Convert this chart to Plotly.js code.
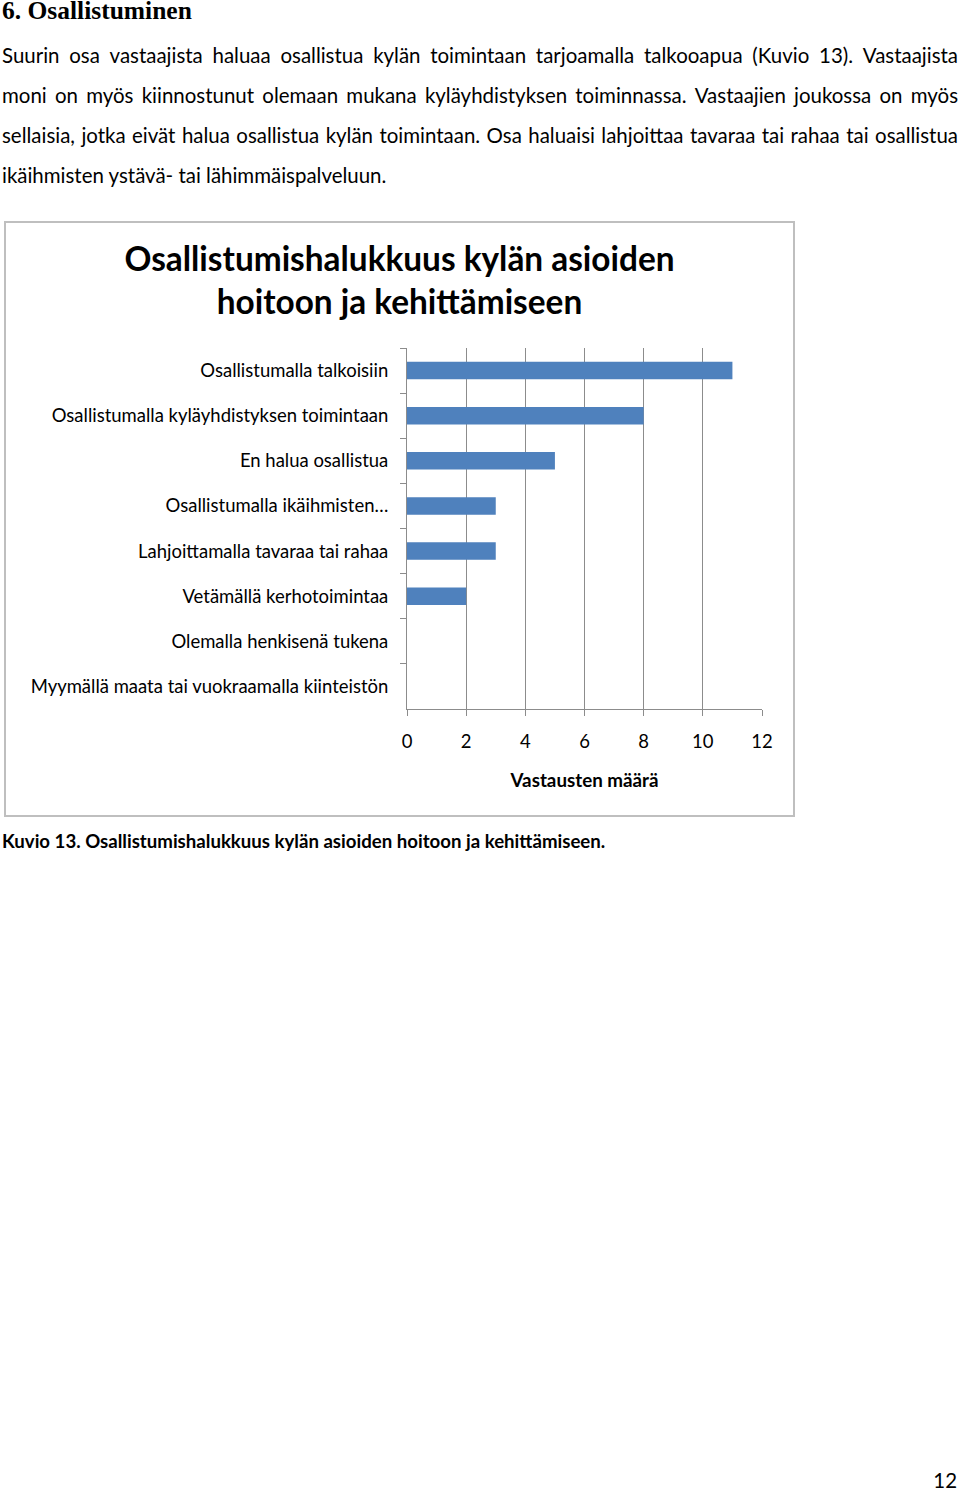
<!DOCTYPE html>
<html><head><meta charset="utf-8">
<script src="https://cdn.plot.ly/plotly-3.0.1.min.js"></script>
<style>
html,body{margin:0;padding:0;background:#fff;}
body{width:960px;height:1493px;position:relative;overflow:hidden;}
#page{position:absolute;left:0;top:0;}
#chart{position:absolute;left:5px;top:222px;width:789px;height:594px;}
#frame{position:absolute;left:4px;top:221px;width:791px;height:596px;border:2px solid #bfbfbf;box-sizing:border-box;pointer-events:none;}
</style></head><body>
<svg id="page" width="960" height="1493" xmlns="http://www.w3.org/2000/svg"></svg>
<div id="chart"></div>
<div id="frame"></div>
<script>
// ---- text content ----
const heading = "6. Osallistuminen";
const paragraphLines = [
  "Suurin osa vastaajista haluaa osallistua kylän toimintaan tarjoamalla talkooapua (Kuvio 13). Vastaajista",
  "moni on myös kiinnostunut olemaan mukana kyläyhdistyksen toiminnassa. Vastaajien joukossa on myös",
  "sellaisia, jotka eivät halua osallistua kylän toimintaan. Osa haluaisi lahjoittaa tavaraa tai rahaa tai osallistua",
  "ikäihmisten ystävä- tai lähimmäispalveluun."
];
const caption = "Kuvio 13. Osallistumishalukkuus kylän asioiden hoitoon ja kehittämiseen.";
const pageNumber = "12";

// ---- chart data ----
const chartTitle = ["Osallistumishalukkuus kylän asioiden", "hoitoon ja kehittämiseen"];
const categories = [
  "Osallistumalla talkoisiin",
  "Osallistumalla kyläyhdistyksen toimintaan",
  "En halua osallistua",
  "Osallistumalla ikäihmisten…",
  "Lahjoittamalla tavaraa tai rahaa",
  "Vetämällä kerhotoimintaa",
  "Olemalla henkisenä tukena",
  "Myymällä maata tai vuokraamalla kiinteistön"
];
const counts = [11, 8, 5, 3, 3, 2, 0, 0];
const xTickValues = [0, 2, 4, 6, 8, 10, 12];
const xAxisTitle = "Vastausten määrä";

// ---- helpers ----
const ctx = document.createElement('canvas').getContext('2d');
function tw(text, font) { ctx.font = font; return ctx.measureText(text).width; }
function fitSize(text, weight, family, target) { return 100 * target / tw(text, weight + ' 100px ' + family); }
const NS = "http://www.w3.org/2000/svg";
const svg = document.getElementById('page');
function addText(str, x, y, size, weight, family, anchor) {
  const t = document.createElementNS(NS, 'text');
  t.setAttribute('x', x); t.setAttribute('y', y);
  t.setAttribute('font-size', size); t.setAttribute('font-weight', weight);
  t.setAttribute('font-family', family); t.setAttribute('fill', '#000');
  if (anchor) t.setAttribute('text-anchor', anchor);
  t.textContent = str; svg.appendChild(t); return t;
}
function addJustified(str, x, y, width, size, family) {
  const font = '400 ' + size + 'px ' + family;
  const words = str.split(' ');
  const total = words.reduce((a, wd) => a + tw(wd, font), 0);
  const gap = (width - total) / (words.length - 1);
  const t = document.createElementNS(NS, 'text');
  t.setAttribute('y', y); t.setAttribute('font-size', size);
  t.setAttribute('font-family', family); t.setAttribute('fill', '#000');
  let cx = x;
  words.forEach((wd, i) => {
    const s = document.createElementNS(NS, 'tspan');
    s.setAttribute('x', cx.toFixed(2));
    s.textContent = (i < words.length - 1) ? wd + ' ' : wd;
    t.appendChild(s);
    cx += tw(wd, font) + gap;
  });
  svg.appendChild(t);
}

function draw() {
  const F = 'Lato';
  const HF = 'Liberation Serif';
  // page text
  const hSize = fitSize(heading, '700', '"' + HF + '"', 190);
  addText(heading, 2, 19, hSize, 700, HF);
  const bodySize = fitSize(paragraphLines[3], '400', F, 385);
  paragraphLines.forEach((ln, i) => {
    if (i < 3) addJustified(ln, 2, 63 + 40 * i, 956, bodySize, F);
    else addText(ln, 2, 63 + 40 * i, bodySize, 400, F);
  });
  const capSize = fitSize(caption, '700', F, 604);
  addText(caption, 2, 848, capSize, 700, F);
  addText(pageNumber, 957, 1488, bodySize, 400, F, 'end');

  // chart sizes
  const labelSize = fitSize(categories[0], '400', F, 188);
  const titleSize = fitSize(chartTitle[0], '700', F, 550);
  const axTitleSize = fitSize(xAxisTitle, '700', F, 148);
  const grey = '#8c8c8c';

  const trace = {
    type: 'bar', orientation: 'h', y: categories, x: counts,
    marker: { color: '#4f81bd', line: { width: 0 } },
    hoverinfo: 'none'
  };
  const layout = {
    width: 789, height: 594,
    margin: { l: 402, r: 32, t: 126, b: 107, pad: 0 },
    paper_bgcolor: '#fff', plot_bgcolor: '#fff', showlegend: false,
    font: { family: F, color: '#000', size: labelSize },
    title: {
      text: chartTitle.join('<br>'),
      font: { family: F, size: titleSize, weight: 700, color: '#000' },
      x: 0.5, xref: 'container', xanchor: 'center',
      y: 1 - 49 / 594, yref: 'container', yanchor: 'middle'
    },
    bargap: 0.61,
    xaxis: {
      range: [0, 12], tickmode: 'array', tickvals: xTickValues,
      showgrid: true, gridcolor: grey, gridwidth: 1, zeroline: false,
      showline: true, linecolor: grey, linewidth: 1,
      ticks: 'outside', ticklen: 6, tickcolor: grey, tickwidth: 1,
      tickfont: { size: labelSize, color: '#000' },
      ticklabelstandoff: 10,
      title: { text: xAxisTitle, font: { size: axTitleSize, weight: 700, color: '#000' }, standoff: 22 },
      fixedrange: true, automargin: false
    },
    yaxis: {
      type: 'category', autorange: 'reversed',
      showline: true, linecolor: grey, linewidth: 1, showgrid: false,
      ticks: 'outside', tickson: 'boundaries', ticklen: 6, tickcolor: grey, tickwidth: 1,
      tickfont: { size: labelSize, color: '#000' },
      ticklabelstandoff: 14,
      fixedrange: true, automargin: false
    }
  };
  Plotly.newPlot('chart', [trace], layout, { staticPlot: true, displayModeBar: false });
}
Promise.all([
  document.fonts.load('400 100px Lato'), document.fonts.load('700 100px Lato'),
  document.fonts.load('700 100px "Liberation Serif"')
]).then(draw, draw);
</script>
</body></html>
